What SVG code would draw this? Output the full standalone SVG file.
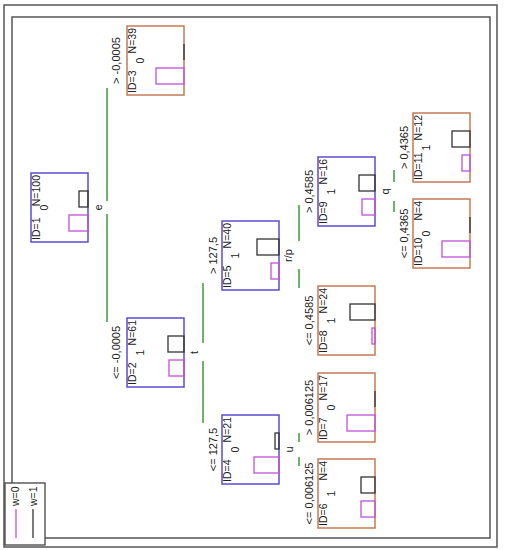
<svg xmlns="http://www.w3.org/2000/svg" width="507" height="550" viewBox="0 0 507 550">
<style>
text{font-family:"Liberation Sans",Arial,sans-serif;fill:#222}
.nl{font-size:10.5px}
.el{font-size:11px;text-anchor:middle}
.sl{font-size:11px;text-anchor:middle}
.end{text-anchor:end}
.mid{text-anchor:middle}
.inner{fill:#fff;stroke:#5b4bd6;stroke-width:1.5}
.term{fill:#fff;stroke:#c47a55;stroke-width:1.5}
.b1{fill:none;stroke:#333;stroke-width:1.3}
.b0{fill:none;stroke:#c050d8;stroke-width:1.3}
.edge{stroke:#3c9c3c;stroke-width:1.5;fill:none}
.frame{fill:none;stroke:#555;stroke-width:1.5}
</style>
<rect x="0" y="0" width="507" height="550" fill="#fff"/>
<rect class="frame" x="4" y="5" width="493" height="542"/>
<rect class="frame" x="12" y="17" width="478" height="521"/>

<g id="connectors">
<path class="edge" d="M107,88V201M107,214V322M203,283V343M203,361V423M299,205V241M299,269V288M299,433V442M299,457V466M394,170V182M394,201V212"/>
<text class="el" transform="translate(120,60.5) rotate(-90)">&gt; -0,0005</text>
<text class="el" transform="translate(120,352.5) rotate(-90)">&lt;= -0,0005</text>
<text class="el" transform="translate(217,255.5) rotate(-90)">&gt; 127,5</text>
<text class="el" transform="translate(217,449.5) rotate(-90)">&lt;= 127,5</text>
<text class="el" transform="translate(313,191.5) rotate(-90)">&gt; 0,4585</text>
<text class="el" transform="translate(313,320.5) rotate(-90)">&lt;= 0,4585</text>
<text class="el" transform="translate(313,407.5) rotate(-90)">&gt; 0,006125</text>
<text class="el" transform="translate(313,493.5) rotate(-90)">&lt;= 0,006125</text>
<text class="el" transform="translate(408,147.5) rotate(-90)">&gt; 0,4365</text>
<text class="el" transform="translate(408,233.5) rotate(-90)">&lt;= 0,4365</text>
</g>

<g id="node1">
<rect class="inner" x="31" y="173" width="57" height="69"/>
<rect class="b1" x="79" y="191" width="9" height="16"/>
<rect class="b0" x="69" y="215" width="19" height="16"/>
<text class="nl" transform="translate(40,240) rotate(-90)">ID=1</text>
<text class="nl end" transform="translate(40,175) rotate(-90)">N=100</text>
<text class="nl mid" transform="translate(48,207.5) rotate(-90)">0</text>
<text class="sl" transform="translate(101.5,207.5) rotate(-90)">e</text>
</g>

<g id="node2">
<rect class="inner" x="127" y="318" width="57" height="69"/>
<rect class="b1" x="168" y="336" width="16" height="16"/>
<rect class="b0" x="169" y="360" width="15" height="16"/>
<text class="nl" transform="translate(136,385) rotate(-90)">ID=2</text>
<text class="nl end" transform="translate(136,320) rotate(-90)">N=61</text>
<text class="nl mid" transform="translate(144,352.5) rotate(-90)">1</text>
<text class="sl" transform="translate(197.5,352.5) rotate(-90)">t</text>
</g>

<g id="node3">
<rect class="term" x="127" y="26" width="57" height="69"/>
<line x1="184" y1="44" x2="184" y2="60" stroke="#333" stroke-width="1.3"/>
<rect class="b0" x="156" y="68" width="28" height="16"/>
<text class="nl" transform="translate(136,93) rotate(-90)">ID=3</text>
<text class="nl end" transform="translate(136,28) rotate(-90)">N=39</text>
<text class="nl mid" transform="translate(144,60.5) rotate(-90)">0</text>
</g>

<g id="node4">
<rect class="inner" x="222" y="415" width="57" height="69"/>
<rect class="b1" x="275" y="433" width="4" height="16"/>
<rect class="b0" x="254" y="457" width="25" height="16"/>
<text class="nl" transform="translate(231,482) rotate(-90)">ID=4</text>
<text class="nl end" transform="translate(231,417) rotate(-90)">N=21</text>
<text class="nl mid" transform="translate(239,449.5) rotate(-90)">0</text>
<text class="sl" transform="translate(292.5,449.5) rotate(-90)">u</text>
</g>

<g id="node5">
<rect class="inner" x="222" y="221" width="57" height="69"/>
<rect class="b1" x="257" y="239" width="22" height="16"/>
<rect class="b0" x="271" y="263" width="8" height="16"/>
<text class="nl" transform="translate(231,288) rotate(-90)">ID=5</text>
<text class="nl end" transform="translate(231,223) rotate(-90)">N=40</text>
<text class="nl mid" transform="translate(239,255.5) rotate(-90)">1</text>
<text class="sl" transform="translate(292,255.5) rotate(-90)">r/p</text>
</g>

<g id="node6">
<rect class="term" x="318" y="459" width="57" height="69"/>
<rect class="b1" x="361" y="477" width="14" height="16"/>
<rect class="b0" x="361" y="501" width="14" height="16"/>
<text class="nl" transform="translate(327,526) rotate(-90)">ID=6</text>
<text class="nl end" transform="translate(327,461) rotate(-90)">N=4</text>
<text class="nl mid" transform="translate(335,493.5) rotate(-90)">1</text>
</g>

<g id="node7">
<rect class="term" x="318" y="373" width="57" height="69"/>
<line x1="375" y1="391" x2="375" y2="407" stroke="#333" stroke-width="1.3"/>
<rect class="b0" x="347" y="415" width="28" height="16"/>
<text class="nl" transform="translate(327,440) rotate(-90)">ID=7</text>
<text class="nl end" transform="translate(327,375) rotate(-90)">N=17</text>
<text class="nl mid" transform="translate(335,407.5) rotate(-90)">0</text>
</g>

<g id="node8">
<rect class="term" x="318" y="286" width="57" height="69"/>
<rect class="b1" x="350" y="304" width="25" height="16"/>
<rect class="b0" x="372" y="328" width="3" height="16"/>
<text class="nl" transform="translate(327,353) rotate(-90)">ID=8</text>
<text class="nl end" transform="translate(327,288) rotate(-90)">N=24</text>
<text class="nl mid" transform="translate(335,320.5) rotate(-90)">1</text>
</g>

<g id="node9">
<rect class="inner" x="318" y="157" width="57" height="69"/>
<rect class="b1" x="359" y="175" width="16" height="16"/>
<rect class="b0" x="362" y="199" width="13" height="16"/>
<text class="nl" transform="translate(327,224) rotate(-90)">ID=9</text>
<text class="nl end" transform="translate(327,159) rotate(-90)">N=16</text>
<text class="nl mid" transform="translate(335,191.5) rotate(-90)">1</text>
<text class="sl" transform="translate(388.5,191.5) rotate(-90)">q</text>
</g>

<g id="node10">
<rect class="term" x="413" y="199" width="57" height="69"/>
<line x1="470" y1="217" x2="470" y2="233" stroke="#333" stroke-width="1.3"/>
<rect class="b0" x="442" y="241" width="28" height="16"/>
<text class="nl" transform="translate(422,266) rotate(-90)">ID=10</text>
<text class="nl end" transform="translate(422,201) rotate(-90)">N=4</text>
<text class="nl mid" transform="translate(430,233.5) rotate(-90)">0</text>
</g>

<g id="node11">
<rect class="term" x="413" y="113" width="57" height="69"/>
<rect class="b1" x="452" y="131" width="18" height="16"/>
<rect class="b0" x="462" y="155" width="8" height="16"/>
<text class="nl" transform="translate(422,180) rotate(-90)">ID=11</text>
<text class="nl end" transform="translate(422,115) rotate(-90)">N=12</text>
<text class="nl mid" transform="translate(430,147.5) rotate(-90)">1</text>
</g>

<g id="legend">
<rect x="5" y="483" width="40" height="62" fill="#fff" stroke="#444" stroke-width="1.3"/>
<text class="nl" transform="translate(19,506) rotate(-90)">w=0</text>
<line x1="16" y1="509" x2="16" y2="538" stroke="#c050d8" stroke-width="1.3"/>
<text class="nl" transform="translate(37,506) rotate(-90)">w=1</text>
<line x1="33" y1="509" x2="33" y2="538" stroke="#333" stroke-width="1.3"/>
</g>
</svg>
